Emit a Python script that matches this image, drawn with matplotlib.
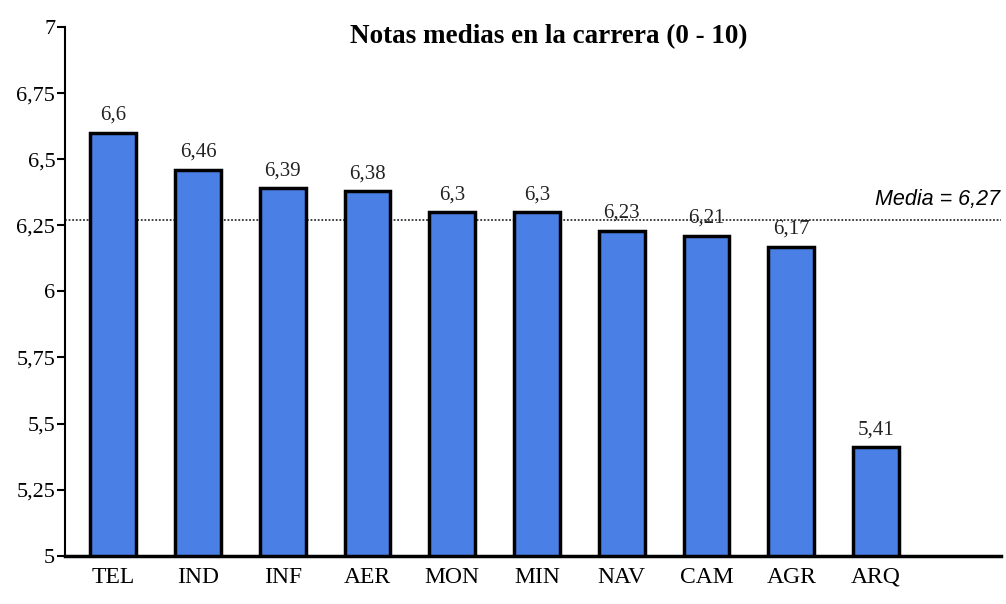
import numpy as np
import matplotlib.pyplot as plt

# DATA
carreras = ["TEL", "IND", "INF", "AER", "MON", "MIN", "NAV", "CAM", "AGR", "ARQ"]
notas = [6.6, 6.46, 6.39, 6.38, 6.3, 6.3, 6.23, 6.21, 6.17, 5.41]
media = 6.27
y_ticks = [5, 5.25, 5.5, 5.75, 6, 6.25, 6.5, 6.75, 7]


def coma(v):
    s = f"{v:g}"
    return s.replace(".", ",")


plt.rcParams["font.family"] = ["Liberation Serif", "DejaVu Serif"]

fig = plt.figure(figsize=(10.06, 6.04), dpi=100)
ax = fig.add_axes([0.0646, 0.08, 0.93, 0.875])

x = np.arange(len(carreras))
ax.bar(x, [n - 5 for n in notas], bottom=5, width=0.54, color="#4a80e6",
       edgecolor="black", linewidth=2.5, zorder=3)

for xi, n in zip(x, notas):
    ax.text(xi, n + 0.03, coma(n), ha="center", va="bottom", fontsize=15,
            color="#222222")

# linea de la media
ax.axhline(media, color="#333333", linestyle=(0, (1, 1)), linewidth=1.3,
           zorder=2)
ax.text(10.47, media + 0.04, f"Media = {coma(media)}", ha="right",
        va="bottom", fontsize=15.5, style="italic",
        family=["Liberation Sans", "DejaVu Sans"])

ax.set_xlim(-0.57, 10.47)
ax.set_ylim(5, 7)
ax.set_yticks(y_ticks)
ax.set_yticklabels([coma(v) for v in y_ticks], fontsize=16)
ax.set_xticks(x)
ax.set_xticklabels(carreras, fontsize=17)
ax.tick_params(axis="x", length=0, pad=8)
ax.tick_params(axis="y", length=6, width=1.5, pad=1)

for s in ["top", "right"]:
    ax.spines[s].set_visible(False)
ax.spines["left"].set_linewidth(1.5)
ax.spines["bottom"].set_linewidth(2.5)

fig.text(0.545, 0.94, "Notas medias en la carrera (0 - 10)", ha="center",
         va="center", fontsize=19.5, fontweight="bold")

plt.savefig("out.png", dpi=100)
